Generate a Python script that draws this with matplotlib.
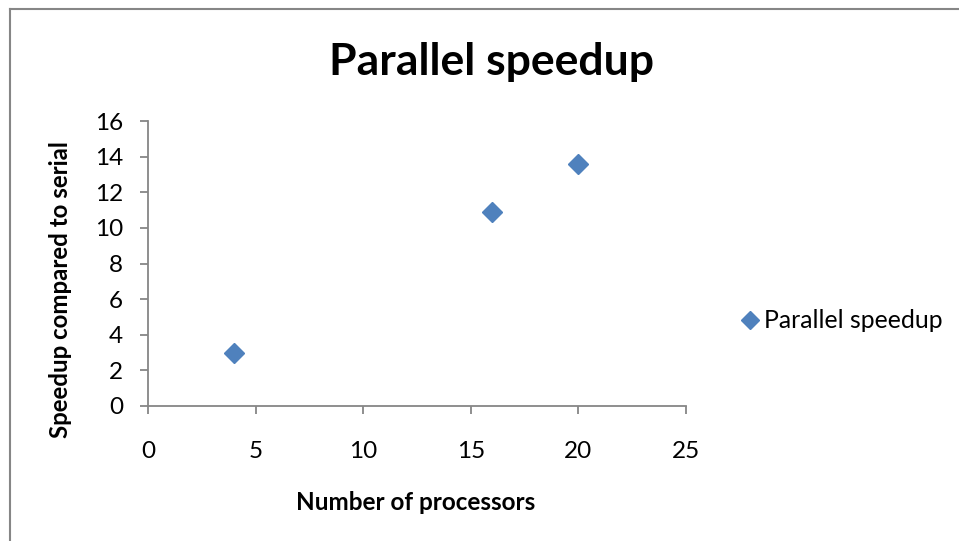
import matplotlib.pyplot as plt
from matplotlib.lines import Line2D

# speedup measurements
processors = [4, 16, 20]
speedup = [3.0, 10.9, 13.6]

x_ticks = [0, 5, 10, 15, 20, 25]
y_ticks = [0, 2, 4, 6, 8, 10, 12, 14, 16]

BLUE = "#4F81BD"
GREY = "#868686"
plt.rcParams["font.family"] = ["Lato", "DejaVu Sans"]

fig = plt.figure(figsize=(9.59, 5.41), dpi=100)
ax = fig.add_axes([148 / 959, 1 - 406 / 541, (686 - 148) / 959, (406 - 121) / 541])

ax.plot(processors, speedup, linestyle="none", marker="D", markersize=10,
        color=BLUE, markeredgecolor=BLUE, label="Parallel speedup", clip_on=False)

ax.set_xlim(0, 25)
ax.set_ylim(0, 16)
ax.set_xticks(x_ticks)
ax.set_yticks(y_ticks)

for side in ("top", "right"):
    ax.spines[side].set_visible(False)
for side in ("left", "bottom"):
    ax.spines[side].set_color(GREY)
    ax.spines[side].set_linewidth(1.3)

ax.tick_params(axis="both", colors=GREY, labelcolor="black", labelsize=17.5,
               width=1.3, length=6, direction="out")
ax.tick_params(axis="x", pad=19)
ax.tick_params(axis="y", pad=12)

fig.text(491 / 959, 1 - 62 / 541, "Parallel speedup", ha="center", va="center",
         fontsize=32, fontweight="bold")
fig.text(416 / 959, 1 - 503 / 541, "Number of processors", ha="center", va="center",
         fontsize=17.5, fontweight="bold")
fig.text(60 / 959, 1 - 290 / 541, "Speedup compared to serial", ha="center", va="center",
         rotation=90, fontsize=17.3, fontweight="bold")

# legend to the right of the plot
handle = Line2D([], [], linestyle="none", marker="D", markersize=9.5, color=BLUE)
fig.legend([handle], ["Parallel speedup"], loc="center left",
           bbox_to_anchor=(729 / 959, 1 - 321 / 541), frameon=False, fontsize=17.8,
           handlelength=0.7, handletextpad=0.2, borderpad=0)

# chart frame (only the top and left edges fall inside the picture)
fig.add_artist(Line2D([9.5 / 959, 1], [1 - 8.5 / 541, 1 - 8.5 / 541], color=GREY, linewidth=1.5))
fig.add_artist(Line2D([9.5 / 959, 9.5 / 959], [0, 1 - 8.5 / 541], color=GREY, linewidth=1.5))

fig.savefig("out.png", dpi=100)
